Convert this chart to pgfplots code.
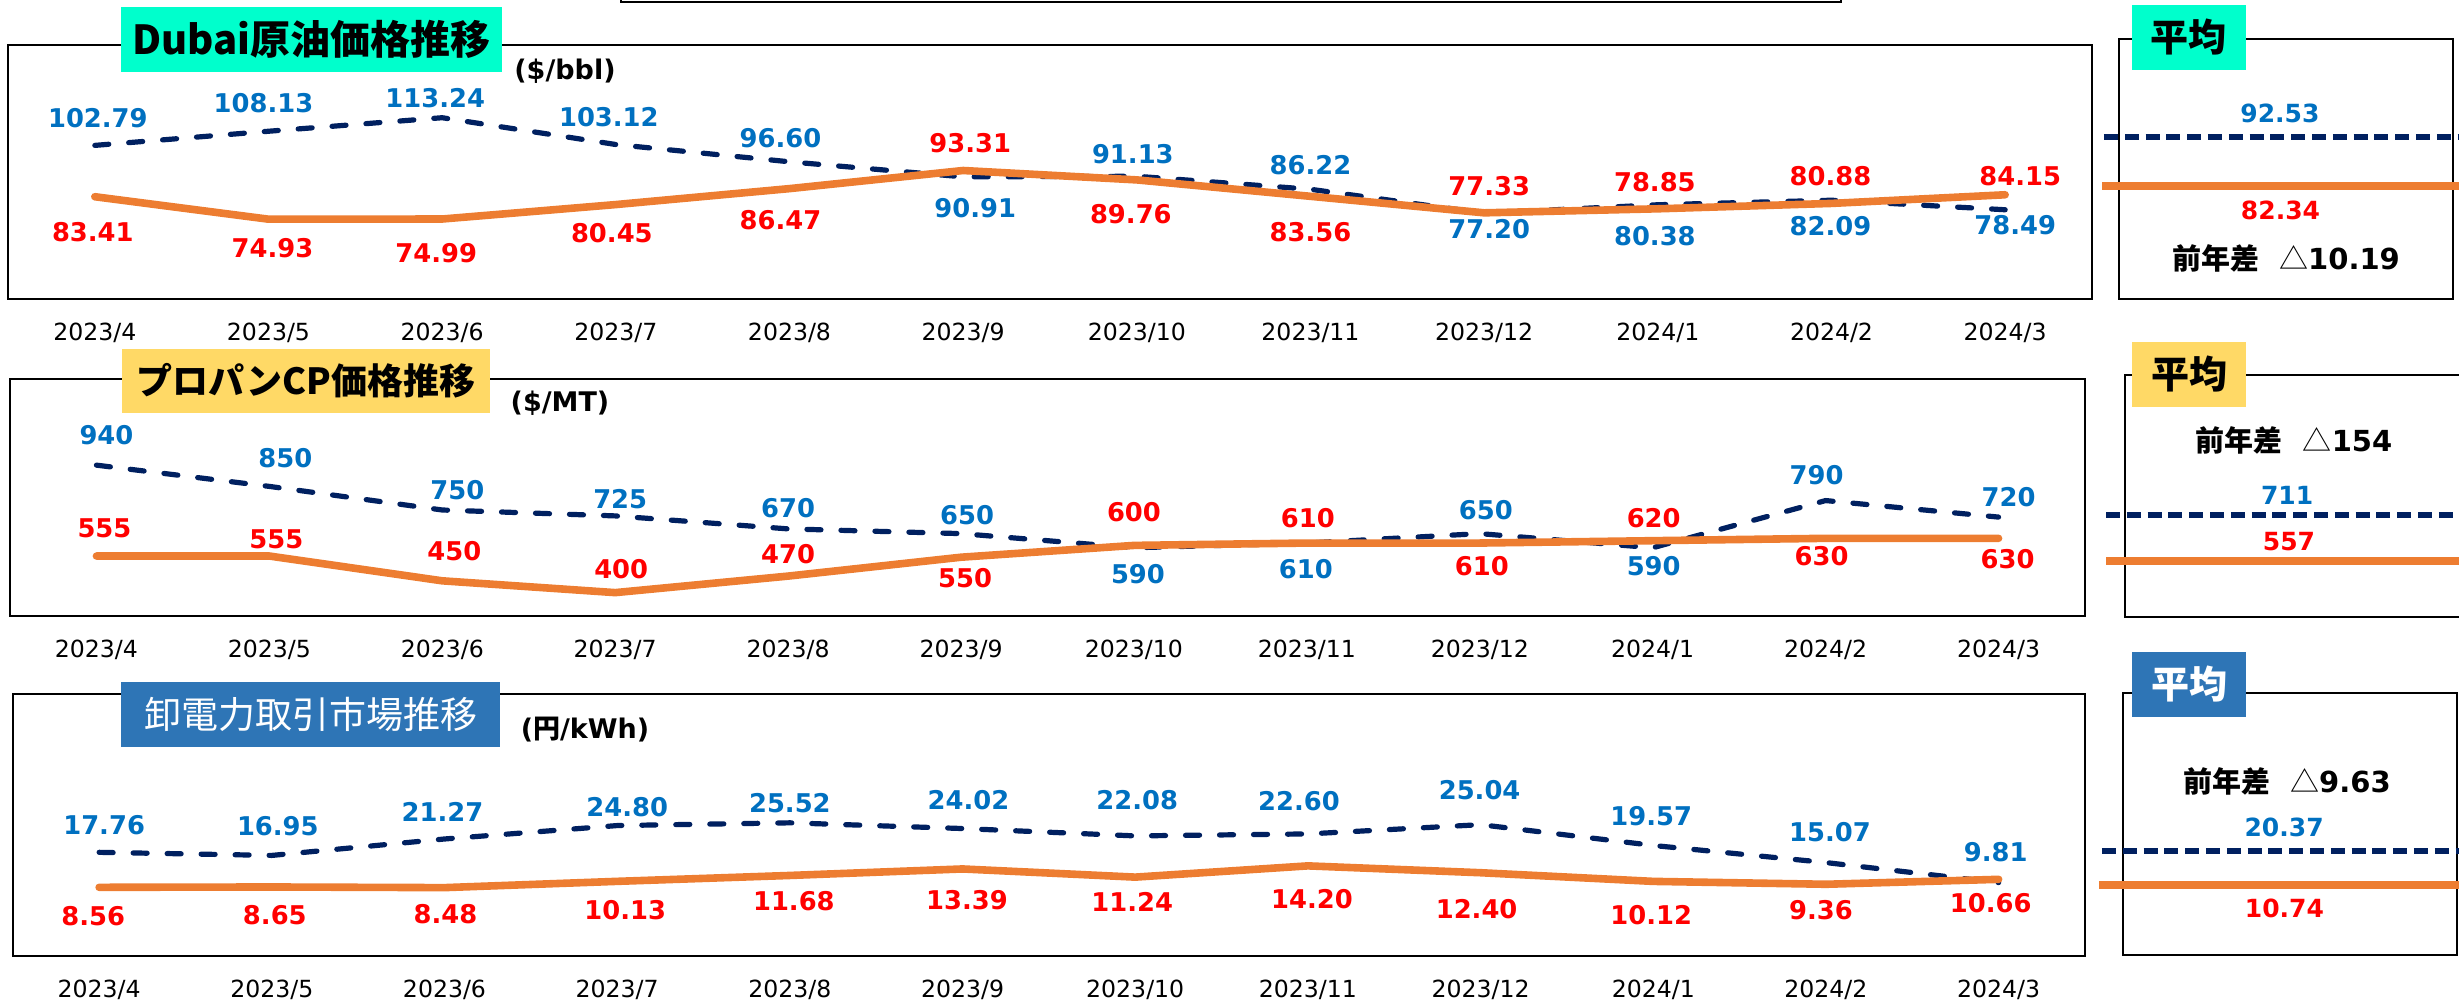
\documentclass[border=0pt]{standalone}
\usepackage{fontspec}
\setmainfont{DejaVu Sans}
\newfontfamily\jp{Noto Sans CJK JP}
\usepackage{pgfplots}
\usepackage{pgfplotstable}
\pgfplotsset{compat=1.18}

\definecolor{navy}{HTML}{002060}
\definecolor{orng}{HTML}{ED7D31}
\definecolor{lblue}{HTML}{0070C0}
\definecolor{lred}{HTML}{FF0000}
\definecolor{cyanbox}{HTML}{00FFCC}
\definecolor{yelbox}{HTML}{FFD966}
\definecolor{bluebox}{HTML}{2E75B6}

% columns: month index, value, label shift x / y (pt)
\pgfplotstableread{
x y dx dy
0 102.79 1.5 13.5
1 108.13 -2.5 14
2 113.24 -3.5 10
3 103.12 -3.5 13.5
4 96.60 -4.5 12
5 90.91 6 -15.75
6 91.13 -2 11
7 86.22 0 12
8 77.20 2.5 -8
9 80.38 -1.5 -15.5
10 82.09 -0.5 -13
11 78.49 5 -7.5
}\dubaiPrev
\pgfplotstableread{
x y dx dy
0 83.41 -1 -17.8
1 74.93 2 -14.5
2 74.99 -3 -17
3 80.45 -2 -14.5
4 86.47 -4.5 -15.5
5 93.31 3.5 13.5
6 89.76 -3 -17
7 83.56 0 -18
8 77.33 2.5 13.5
9 78.85 -1.5 13.25
10 80.88 -0.5 13.5
11 84.15 7.5 9.5
}\dubaiCur
\pgfplotstableread{
x y dx dy
0 940 5 15
1 850 8 14
2 750 7.5 10
3 725 2.5 8.3
4 670 0 10.25
5 650 3 9.5
6 590 2 -13
7 610 -0.5 -13
8 650 3 11.8
9 590 0.5 -9
10 790 -4.5 12.75
11 720 5 10
}\cpPrev
\pgfplotstableread{
x y dx dy
0 555 4 14
1 555 3.5 8.5
2 450 6 15
3 400 3 12
4 470 0 11
5 550 2 -10.5
6 600 0 16.5
7 610 0.5 12.5
8 610 1 -11.5
9 620 0.5 11.5
10 630 -2 -9
11 630 4.5 -10.5
}\cpCur
\pgfplotstableread{
x y dx dy
0 17.76 2.5 13.5
1 16.95 3 14.5
2 21.27 -1 13.5
3 24.80 5 9
4 25.52 0 10
5 24.02 3 14
6 22.08 1 18
7 22.60 -4.5 16.5
8 25.04 -0.5 17.5
9 19.57 -1 14.5
10 15.07 2 15
11 9.81 -1.5 15
}\jepxPrev
\pgfplotstableread{
x y dx dy
0 8.56 -3 -14.5
1 8.65 1.5 -14
2 8.48 0.5 -13
3 10.13 4 -14.5
4 11.68 2 -13
5 13.39 2.25 -15.5
6 11.24 -1.5 -12.3
7 14.20 2 -16.5
8 12.40 -2 -18.3
9 10.12 -1 -16.8
10 9.36 -2.5 -13
11 10.66 -4 -12
}\jepxCur

\pgfplotsset{
  panel/.style={
    scale only axis, clip=false, anchor=south west,
    axis line style={line width=1.1pt},
    xmin=-0.5, xmax=11.5, xtick={0,...,11},
    xticklabels={2023/4,2023/5,2023/6,2023/7,2023/8,2023/9,2023/10,2023/11,2023/12,2024/1,2024/2,2024/3},
    ytick=\empty, major tick length=0pt,
    xticklabel style={font=\fontsize{11.8}{12}\selectfont, anchor=center, yshift=-17pt, inner sep=0pt},
  },
  avgbox/.style={scale only axis, clip=false, anchor=south west,
    axis line style={line width=1.4pt}, xmin=0, xmax=1, xtick=\empty, ytick=\empty},
  prevline/.style={color=navy, line width=2.6pt, dash pattern=on 7pt off 10pt,
    line cap=round, line join=round, mark=none},
  curline/.style={color=orng, line width=3.8pt, line cap=round, line join=round, mark=none},
  avgprev/.style={color=navy, line width=2.6pt, dash pattern=on 7pt off 3.4pt, mark=none},
  avgcur/.style={color=orng, line width=4pt, mark=none},
  vlab/.style={point meta=explicit symbolic, nodes near coords={\pgfplotspointmeta},
    visualization depends on={\thisrow{dx}\as\dx},
    visualization depends on={\thisrow{dy}\as\dy},
    every node near coord/.append style={anchor=center, inner sep=0pt,
      xshift=\dx pt, yshift=\dy pt, text=#1, font=\fontsize{12.9}{13}\selectfont\bfseries}},
}
\tikzset{
  avglab/.style={inner sep=0pt, font=\fontsize{12.5}{13}\selectfont\bfseries},
  diff/.style={inner sep=0pt, font=\fontsize{14.5}{15}\selectfont},
  heikin/.style={inner sep=0pt, minimum width=57pt, minimum height=32.5pt,
    font=\fontsize{19}{19}\selectfont\jp\bfseries},
  unit/.style={inner sep=0pt, font=\fontsize{13.5}{14}\selectfont\bfseries},
}

\begin{document}
\begin{tikzpicture}
\useasboundingbox (0,0) rectangle (1229.5pt,503pt);
\draw[line width=1pt] (310.5pt,510pt) |- (920.5pt,502.2pt) -- (920.5pt,510pt);

% ---- Dubai
\begin{axis}[panel, at={(4pt,353.5pt)}, width=1042pt, height=127pt, ymin=44.8, ymax=140.7]
\addplot[prevline, vlab=lblue] table[x=x, y=y, meta=y] {\dubaiPrev};
\addplot[curline, vlab=lred] table[x=x, y=y, meta=y] {\dubaiCur};
\end{axis}
\begin{axis}[avgbox, at={(1059.5pt,353.5pt)}, width=167pt, height=130pt, ymin=58.84, ymax=112.91]
\addplot[avgprev] coordinates {(-0.045,92.53) (1.05,92.53)}
  node[pos=0.481, yshift=12pt, avglab, text=lblue] {92.53};
\addplot[avgcur] coordinates {(-0.05,82.34) (1.05,82.34)}
  node[pos=0.485, yshift=-12pt, avglab, text=lred] {82.34};
\end{axis}

% ---- Propane CP
\begin{axis}[panel, at={(5pt,195pt)}, width=1037.5pt, height=118.5pt, ymin=301, ymax=1305]
\addplot[prevline, vlab=lblue] table[x=x, y=y, meta=y] {\cpPrev};
\addplot[curline, vlab=lred] table[x=x, y=y, meta=y] {\cpCur};
\end{axis}
\begin{axis}[avgbox, at={(1062.5pt,194.5pt)}, width=172.5pt, height=121pt, ymin=369.5, ymax=1179.7]
\addplot[avgprev] coordinates {(-0.055,711) (1.05,711)}
  node[pos=0.475, yshift=10pt, avglab, text=lblue] {711};
\addplot[avgcur] coordinates {(-0.055,557) (1.05,557)}
  node[pos=0.48, yshift=9.5pt, avglab, text=lred] {557};
\end{axis}

% ---- JEPX
\begin{axis}[panel, at={(6.4pt,25pt)}, width=1036.1pt, height=131pt, ymin=-9.5, ymax=59.4]
\addplot[prevline, vlab=lblue] table[x=x, y=y, meta=y] {\jepxPrev};
\addplot[curline, vlab=lred] table[x=x, y=y, meta=y] {\jepxCur};
\end{axis}
\begin{axis}[avgbox, at={(1061.5pt,25.5pt)}, width=167pt, height=131pt, ymin=-9.08, ymax=65.12]
\addplot[avgprev] coordinates {(-0.063,20.37) (1.05,20.37)}
  node[pos=0.49, yshift=11.7pt, avglab, text=lblue] {20.37};
\addplot[avgcur] coordinates {(-0.072,10.74) (1.05,10.74)}
  node[pos=0.495, yshift=-11.5pt, avglab, text=lred] {10.74};
\end{axis}

% titles
\node[fill=cyanbox, minimum width=190.5pt, minimum height=32.5pt, inner sep=0pt,
  font=\fontsize{20}{20}\selectfont\jp\bfseries] at (155.75pt,483.25pt) {Dubai原油価格推移};
\node[fill=yelbox, minimum width=184pt, minimum height=32pt, inner sep=0pt,
  font=\fontsize{18}{18}\selectfont\jp\bfseries] at (153pt,312.5pt) {プロパンCP価格推移};
\node[fill=bluebox, minimum width=189.5pt, minimum height=32.5pt, inner sep=0pt, text=white,
  font=\fontsize{18.5}{18}\selectfont\jp] at (155.25pt,145.75pt) {卸電力取引市場推移};

\node[unit] at (282.5pt,467.2pt) {(\$/bbl)};
\node[unit] at (280pt,301.5pt) {(\$/MT)};
\node[unit] at (292.5pt,138pt) {({\jp 円}/kWh)};

\node[heikin, fill=cyanbox] at (1094.25pt,484.25pt) {平均};
\node[heikin, fill=yelbox] at (1094.5pt,315.75pt) {平均};
\node[heikin, fill=bluebox, text=white] at (1094.5pt,160.75pt) {平均};

\node[diff] at (1143pt,374pt) {{\jp\bfseries 前年差}\hspace{10pt}{\jp △}{\bfseries 10.19}};
\node[diff] at (1147pt,283pt) {{\jp\bfseries 前年差}\hspace{10pt}{\jp △}{\bfseries 154}};
\node[diff] at (1143.5pt,112.5pt) {{\jp\bfseries 前年差}\hspace{10pt}{\jp △}{\bfseries 9.63}};
\end{tikzpicture}
\end{document}
